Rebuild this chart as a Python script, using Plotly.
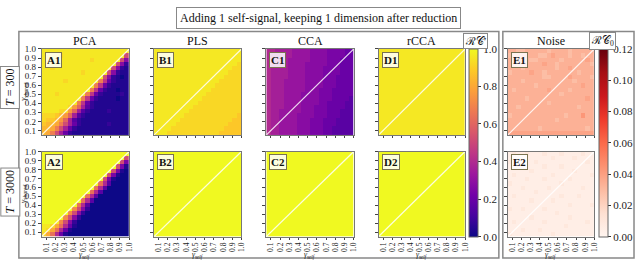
import numpy as np
import plotly.graph_objects as go
import plotly.colors as pc

# ---------------- data ----------------
gamma_min, gamma_max, n_cells = 0.05, 1.0, 20
tick_vals = [0.1, 0.2, 0.3, 0.4, 0.5, 0.6, 0.7, 0.8, 0.9, 1.0]
tick_text = ["0.1", "0.2", "0.3", "0.4", "0.5", "0.6", "0.7", "0.8", "0.9", "1.0"]

methods = ["PCA", "PLS", "CCA", "rCCA", "Noise"]
panel_labels = [["A1", "B1", "C1", "D1", "E1"], ["A2", "B2", "C2", "D2", "E2"]]
row_titles = ["<i>T</i> = 300", "<i>T</i> = 3000"]
title_text = "Adding 1 self-signal, keeping 1 dimension after reduction"

rc_ticks = [0.0, 0.2, 0.4, 0.6, 0.8, 1.0]
rc_ticktext = ["0.0", "0.2", "0.4", "0.6", "0.8", "1.0"]
rc0_ticks = [0.0, 0.02, 0.04, 0.06, 0.08, 0.10, 0.12]
rc0_ticktext = ["0.00", "0.02", "0.04", "0.06", "0.08", "0.10", "0.12"]
rc_max, rc0_max = 1.0, 0.12

# Cell values: rows listed from top (gamma_shared = 1.0)
# to bottom; each letter a..z stands for a value from 0 to the colour-bar max
# in 25 equal steps (a = 0, z = max).
A1_rows = [
    "yyyyyyyyyyyyyyyyyyyy",
    "yyyyxyyyyyyyyyyyyyyn",
    "yyyyyyyyyyyxyyyyyynh",
    "yyyyyyyyyyyyyyyyynhc",
    "yyxyyyyyyyyyyyyynhcb",
    "yyyyyyyyyxyyyyynhcbb",
    "yyyyyyyyyyyyyynhcbab",
    "yyyyyxyyyyyyyrlfcbbb",
    "yyyyyyyyyyyyrlfcbbbb",
    "yyyyyyyyyyyrlfcbbabb",
    "yyyxyyyyyyrlfcbbbbcb",
    "yyyyyyyyyrlfcbbbbabb",
    "yyyyyyyyrlfcbbbbbbbb",
    "yyyyyyxtpjecbbbbbbbb",
    "yyyyxxtpjecbbbbcbbbb",
    "xxxwvtpjecbbbbbbbbbb",
    "xwwvtpjecbbbbbbbbbbb",
    "wvvurnjfcbbbbbbcbbbb",
    "vvurnjfcbbbbbbbbbbbb",
    "vurnjfcbbbbbbbbbbbbb",
]
A2_rows = [
    "zzzzzzzzzzzzzzzzzzzz",
    "zzzzzzzzzzzzzzzzzzzn",
    "zzzzzzzzzzzzzzzzzzng",
    "zzzzzzzzzzzzzzzzzngb",
    "zzzzzzzzzzzzzzzzngba",
    "zzzzzzzzzzzzzzzngbaa",
    "zzzzzzzzzzzzzzngbaaa",
    "zzzzzzzzzzzzzqkeaaaa",
    "zzzzzzzzzzzzqkeaaaaa",
    "zzzzzzzzzzzqkeaaaaaa",
    "zzzzzzzzzzqkeaaaaaaa",
    "zzzzzzzzzqkeaaaaaaaa",
    "zzzzzzzzqkeaaaaaaaaa",
    "zzzzzzzsnhcaaaaaaaaa",
    "zzzzzzsnhcaaaaaaaaaa",
    "zzzzzsnhcaaaaaaaaaaa",
    "zzzysnhcaaaaaaaaaaaa",
    "yyxuqkfbaaaaaaaaaaaa",
    "yxuqkfbaaaaaaaaaaaaa",
    "xuqkfbaaaaaaaaaaaaaa",
]
B1_rows = [
    "yyyyyyyyyyyyyyyyyyyy",
    "yyyyyyyyyyyyyyyyyyyy",
    "yyyyyyyyyyyyyyyyyyyy",
    "yyyyyyyyyyyyyyyyyyyx",
    "yyyyyyyyyyyyyyyyyyxx",
    "yyyyyyyyyyyyyyyyyxxx",
    "yyyyyyyyyyyyyyyyxxxx",
    "yyyyyyyyyyyyyyyxxxxx",
    "yyyyyyyyyyyyyyxxxxxx",
    "yyyyyyyyyyyyyxxxxxxx",
    "yyyyyyyyyyyyxxxxxxxx",
    "yyyyyyyyyyyxxxxxxxxx",
    "yyyyyyyyyyxxxxxxxxxx",
    "yyyyyyyyyxxxxxxxxxxx",
    "yyyyyyyyxxxxxxxxxxxx",
    "yyyyyyyxxxxxxxxxxxxw",
    "yyyyyyxxxxxxxxxxxxww",
    "yyyyyxxxxxxxxxxxxwww",
    "yyyyxxxxxxxxxxxxwwww",
    "yyyxxxxxxxxxxxxwwwww",
]
B2_rows = ["zzzzzzzzzzzzzzzzzzzz"] * 20
C1_rows = [
    "kkjjjjiiiihhhhggggff",
    "kjjjjjiiiihhhhggggff",
    "kjjjjiiiiihhhhgggfff",
    "kjjjjiiiihhhhhgggfff",
    "kjjjjiiiihhhhggggfff",
    "kjjjjiiiihhhhggggfff",
    "kjjjjiiiihhhhgggffff",
    "kjjjiiiiihhhhgggffff",
    "kjjjiiiiihhhhgggffff",
    "kjjjiiiiihhhgggfffff",
    "kjjjiiiihhhhgggfffff",
    "kjjjiiiihhhhgggffffe",
    "kjjjiiiihhhhggffffee",
    "kjjjiiiihhhgggffffee",
    "kjjiiiiihhhgggfffeee",
    "kjjiiiihhhhgggfffeee",
    "kjjiiiihhhgggfffeeee",
    "kjjiiiihhhgggfffeeee",
    "kjjiiiihhhgggffeeeee",
    "kjjiiiihhhgggffeeeee",
]
C2_rows = ["zzzzzzzzzzzzzzzzzzzz"] * 20
D1_rows = ["yyyyyyyyyyyyyyyyyyyy"] * 20
D2_rows = ["zzzzzzzzzzzzzzzzzzzz"] * 20
E1_rows = [
    "hhgghhhhhghhhhghhhhh",
    "ghhhhhhgghihhhghhghh",
    "hhihhgghhhhhghhhhhih",
    "hhghhhhhihhghhhhhhhg",
    "hhhghhhhhhhghhihhhhh",
    "ghhhhihhghhhhhhhghhh",
    "hhhhhhhhgghhhhihhhhg",
    "hhhghhhhhhhhhhhghhhh",
    "hhhhhhghhhhhhhhhhihh",
    "hghhhhhhhihhhhghhhhh",
    "hhhhhhhhhhhhghhhhhhh",
    "hhhhghhhhhhhhhhhhhih",
    "hhhhhhhhhghhhhhhhhhh",
    "hhghhhhhhhhhhhhhghhh",
    "hhhhhhhhhhhhhhhhhhhh",
    "ghhhhhhhhhhhhghhhjhh",
    "hhhhhhhhhhhghhhhhhhh",
    "hhhhhhhhhhhhhhhhhhhh",
    "hhhhhhhghhhhhhhhhhgh",
    "iiiiiiiiiiiiiiiiiiii",
]
E2_rows = [
    "bcbbcbbbcbbbcbbbbcbb",
    "bbbcbbbbbbcbbbbcbbbb",
    "cbbbbbcbbbbbbbbbbbcb",
    "bbcbbbbbcbbbcbbbbbbb",
    "bbbbbcbbbbbbbbbcbbbb",
    "bcbbbbbbbbcbbbbbbbbc",
    "bbbbcbbbcbbbbbcbbbbb",
    "cbbbbbbbbbbbcbbbbbbb",
    "bbbcbbbbbcbbbbbbbcbb",
    "bbbbbbcbbbbbbbbbbbbb",
    "bcbbbbbbbbbbcbbbcbbb",
    "bbbbbcbbbbcbbbbbbbbb",
    "bbbbbbbbbbbbbbcbbbbc",
    "cbbcbbbbcbbbbbbbbbbb",
    "bbbbbbbbbbbcbbbbbbbb",
    "bbbbbcbbbbbbbbcbbbbb",
    "bcbbbbbbcbbbbbbbbbcb",
    "bbbbbbbbbbbbbcbbbbbb",
    "bbbcbbbcbbbbbbbbbbbb",
    "cbbbbbbbbbcbbbbbbbbb",
]

panel_data = [
    [(A1_rows, rc_max), (B1_rows, rc_max), (C1_rows, rc_max), (D1_rows, rc_max), (E1_rows, rc0_max)],
    [(A2_rows, rc_max), (B2_rows, rc_max), (C2_rows, rc_max), (D2_rows, rc_max), (E2_rows, rc0_max)],
]


def decode(rows, zmax):
    m = [[(ord(c) - ord("a")) / 25.0 * zmax for c in r] for r in rows]
    return m[::-1]  # bottom row first


# ---------------- layout helpers ----------------
W, H = 640, 261
col_px = [(42, 130), (155, 243), (268, 356), (381, 468), (511, 598)]
row_px = [(45, 133), (150, 237)]
SERIF = "Liberation Serif"


def px_x(v):
    return v / W


def px_y(v):
    return 1 - v / H


edges = np.linspace(gamma_min, gamma_max, n_cells + 1)
centers = (edges[:-1] + edges[1:]) / 2

plasma = pc.sequential.Plasma
reds = pc.sequential.Reds


def colorbar(x_left, ticks, ticktext):
    return dict(x=px_x(x_left), xanchor="left", thickness=9, thicknessmode="pixels",
                len=(237 - 45) / H, lenmode="fraction", y=px_y((45 + 237) / 2),
                yanchor="middle", xpad=0, ypad=0, outlinewidth=1, outlinecolor="#666",
                tickvals=ticks, ticktext=ticktext, ticks="outside", ticklen=3,
                tickcolor="#333", tickfont=dict(family=SERIF, size=11, color="#222"))


fig = go.Figure()
layout_axes = {}
annotations = []
k = 0
for r in range(2):
    for c in range(5):
        k += 1
        xa = "x" if k == 1 else f"x{k}"
        ya = "y" if k == 1 else f"y{k}"
        rows, zmax = panel_data[r][c]
        is_noise = c == 4
        show_cb = (r == 0 and c in (3, 4))
        cb = None
        if show_cb:
            cb = colorbar(603, rc0_ticks, rc0_ticktext) if is_noise else colorbar(472, rc_ticks, rc_ticktext)
        fig.add_trace(go.Heatmap(
            z=decode(rows, zmax), x=centers, y=centers,
            colorscale=reds if is_noise else plasma,
            zmin=0, zmax=zmax, showscale=show_cb, colorbar=cb,
            xaxis=xa, yaxis=ya, hoverinfo="skip"))
        fig.add_trace(go.Scatter(
            x=[gamma_min, gamma_max], y=[gamma_min, gamma_max], mode="lines",
            line=dict(color="rgba(255,255,255,0.85)", width=1.2),
            xaxis=xa, yaxis=ya, showlegend=False, hoverinfo="skip"))
        x0, x1 = col_px[c]
        y0, y1 = row_px[r]
        layout_axes["xaxis" if k == 1 else f"xaxis{k}"] = dict(
            domain=[px_x(x0), px_x(x1)], range=[gamma_min, gamma_max], anchor=ya,
            tickvals=tick_vals, ticktext=tick_text, ticks="outside", ticklen=2,
            tickcolor="#444", showticklabels=(r == 1), tickangle=-90,
            tickfont=dict(family=SERIF, size=7.5, color="#222"),
            showline=True, mirror=True, linecolor="#777", linewidth=1,
            showgrid=False, zeroline=False, fixedrange=True)
        layout_axes["yaxis" if k == 1 else f"yaxis{k}"] = dict(
            domain=[px_y(y1), px_y(y0)], range=[gamma_min, gamma_max], anchor=xa,
            tickvals=tick_vals, ticktext=tick_text, ticks="outside", ticklen=3,
            tickcolor="#444", showticklabels=(c == 0),
            tickfont=dict(family=SERIF, size=9, color="#222"),
            showline=True, mirror=True, linecolor="#777", linewidth=1,
            showgrid=False, zeroline=False, fixedrange=True)
        # panel label
        annotations.append(dict(
            text=f"<b>{panel_labels[r][c]}</b>", xref="paper", yref="paper",
            x=px_x(x0 + 3), y=px_y(y0 + 3), xanchor="left", yanchor="top", showarrow=False,
            font=dict(family=SERIF, size=11, color="#111"), bgcolor="rgba(255,255,255,0.85)",
            bordercolor="#7a7350", borderwidth=1, borderpad=1))
        if r == 0:
            annotations.append(dict(
                text=methods[c], xref="paper", yref="paper", x=px_x((x0 + x1) / 2),
                y=px_y(37), xanchor="center", yanchor="middle", showarrow=False,
                font=dict(family=SERIF, size=12, color="#111")))
        if r == 1:
            annotations.append(dict(
                text="<i>γ<sub>self</sub></i>", xref="paper", yref="paper",
                x=px_x((x0 + x1) / 2), y=px_y(256), xanchor="center", yanchor="middle",
                showarrow=False, font=dict(family=SERIF, size=7.5, color="#222")))
        if c == 0:
            annotations.append(dict(
                text="<i>γ<sub>shared</sub></i>", xref="paper", yref="paper",
                x=px_x(24), y=px_y((y0 + y1) / 2), xanchor="center", yanchor="middle",
                textangle=-90, showarrow=False, font=dict(family=SERIF, size=8, color="#222")))

# row titles
for r, yc in enumerate([84, 191]):
    annotations.append(dict(
        text=row_titles[r], xref="paper", yref="paper", x=px_x(10), y=px_y(yc),
        xanchor="center", yanchor="middle", textangle=-90, showarrow=False,
        font=dict(family=SERIF, size=12, color="#111"), bgcolor="white",
        bordercolor="#888", borderwidth=1, borderpad=2))

# title
annotations.append(dict(
    text=title_text, xref="paper", yref="paper", x=px_x(320), y=px_y(13),
    xanchor="center", yanchor="middle", showarrow=False,
    font=dict(family=SERIF, size=12, color="#111"), bgcolor="white",
    bordercolor="#888", borderwidth=1, borderpad=3))

# colour-bar titles
annotations.append(dict(
    text="ℛ𝒞′", xref="paper", yref="paper", x=px_x(478), y=px_y(37),
    xanchor="center", yanchor="middle", showarrow=False,
    font=dict(family=SERIF, size=11, color="#111"), bgcolor="white",
    bordercolor="#888", borderwidth=1, borderpad=1))
annotations.append(dict(
    text="ℛ𝒞<sub>0</sub>", xref="paper", yref="paper", x=px_x(606), y=px_y(37),
    xanchor="center", yanchor="middle", showarrow=False,
    font=dict(family=SERIF, size=11, color="#111"), bgcolor="white",
    bordercolor="#888", borderwidth=1, borderpad=1))

shapes = [
    dict(type="rect", xref="paper", yref="paper", x0=px_x(19), x1=px_x(502),
         y0=px_y(259), y1=px_y(27), line=dict(color="#888", width=1.5), layer="below"),
    dict(type="rect", xref="paper", yref="paper", x0=px_x(506), x1=px_x(638),
         y0=px_y(259), y1=px_y(27), line=dict(color="#888", width=1.5), layer="below"),
]

fig.update_layout(
    width=W, height=H, margin=dict(l=0, r=0, t=0, b=0),
    paper_bgcolor="white", plot_bgcolor="white", showlegend=False,
    annotations=annotations, shapes=shapes, **layout_axes)

fig.write_html("out.html", config={"displayModeBar": False},
               post_script="document.body.style.margin='0';")
